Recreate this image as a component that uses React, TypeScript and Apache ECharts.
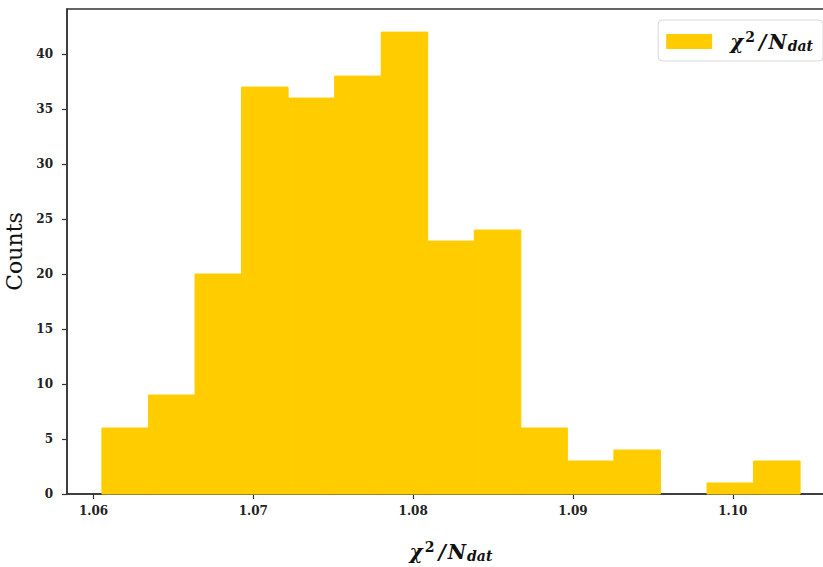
import React, { useEffect, useRef } from "react";
import * as echarts from "echarts";

const binEdges = [
  1.060525, 1.063437, 1.06635, 1.069262, 1.072175, 1.075087, 1.077999, 1.080912,
  1.083824, 1.086737, 1.089649, 1.092561, 1.095474, 1.098386, 1.101299, 1.104211,
];
const counts = [6, 9, 20, 37, 36, 38, 42, 23, 24, 6, 3, 4, 0, 1, 3];
const xTicks = [1.06, 1.07, 1.08, 1.09, 1.1];
const xMin = 1.058341;
const xMax = 1.106395;
const yMax = 44.1;
const seriesName = "χ²/N_dat";

const BAR = "#FFCC00";
const SERIF = "'DejaVu Serif', 'Liberation Serif', serif";

const mathRich = (size: number) => {
  const s = Math.round(size * 0.7);
  return {
    i: { fontFamily: SERIF, fontStyle: "italic", fontWeight: "bold", fontSize: size, color: "#111" },
    sl: { fontFamily: SERIF, fontStyle: "italic", fontWeight: "bold", fontSize: size, color: "#111", padding: [0, 2, 0, 3] },
    sup: { fontFamily: SERIF, fontWeight: "bold", fontSize: s, color: "#111", verticalAlign: "top", padding: [0, 1, Math.round(size * 0.45), 2] },
    sub: { fontFamily: SERIF, fontStyle: "italic", fontWeight: "bold", fontSize: s, color: "#111", verticalAlign: "bottom", padding: [Math.round(size * 0.4), 0, 0, 1] },
  };
};
const mathText = "{i|χ}{sup|2}{sl|/}{i|N}{sub|dat}";

export default function App() {
  const ref = useRef<HTMLDivElement>(null);
  useEffect(() => {
    if (!ref.current) return;
    const chart = echarts.init(ref.current, null, { renderer: "svg" });
    const data = counts.map((c, i) => [binEdges[i], binEdges[i + 1], c]);
    chart.setOption({
      animation: false,
      backgroundColor: "#fff",
      grid: {
        left: 67,
        top: 9,
        right: 1,
        bottom: 73,
        outerBoundsMode: "none",
        containLabel: false,
        show: true,
        borderColor: "#333",
        borderWidth: 1.5,
        backgroundColor: "transparent",
      },
      legend: {
        show: true,
        data: [{ name: seriesName, icon: "rect" }],
        right: 13,
        top: 20,
        itemWidth: 46,
        itemHeight: 15,
        padding: [10, 10, 8, 8],
        borderColor: "#d8d8d8",
        borderWidth: 1,
        borderRadius: 4,
        backgroundColor: "rgba(255,255,255,0.85)",
        formatter: () => mathText,
        textStyle: {
          fontSize: 20,
          fontFamily: SERIF,
          padding: [0, 0, 0, 13],
          rich: mathRich(20),
        },
      },
      xAxis: {
        type: "value",
        min: xMin,
        max: xMax,
        splitLine: { show: false },
        axisLine: { show: true, onZero: false, lineStyle: { color: "#333", width: 1.5 } },
        axisTick: {
          show: true,
          length: 5,
          inside: false,
          customValues: xTicks,
          lineStyle: { color: "#333", width: 1.2 },
        },
        axisLabel: {
          customValues: xTicks,
          margin: 11,
          fontFamily: SERIF,
          fontWeight: "bold",
          fontSize: 12,
          color: "#222",
          formatter: (v: number) => v.toFixed(2),
        },
        name: mathText,
        nameLocation: "middle",
        nameGap: 46,
        nameTextStyle: { fontSize: 20, fontFamily: SERIF, rich: mathRich(20) },
      },
      yAxis: {
        type: "value",
        min: 0,
        max: yMax,
        interval: 5,
        splitLine: { show: false },
        axisLine: { show: true, lineStyle: { color: "#333", width: 1.5 } },
        axisTick: { show: true, length: 5, lineStyle: { color: "#333", width: 1.2 } },
        axisLabel: {
          margin: 14,
          fontFamily: SERIF,
          fontWeight: "bold",
          fontSize: 12,
          color: "#222",
          showMaxLabel: false,
          formatter: (v: number) => (v > 40 ? "" : String(v)),
        },
        name: "Counts",
        nameLocation: "middle",
        nameGap: 35,
        nameTextStyle: { fontFamily: SERIF, fontWeight: "normal", fontSize: 22, color: "#111" },
      },
      series: [
        {
          name: seriesName,
          type: "custom",
          itemStyle: { color: BAR },
          encode: { x: [0, 1], y: 2 },
          data,
          renderItem: (params: any, api: any) => {
            const x0 = api.value(0);
            const x1 = api.value(1);
            const y = api.value(2);
            if (!(y > 0)) return null;
            const p0 = api.coord([x0, y]);
            const p1 = api.coord([x1, 0]);
            return {
              type: "rect",
              shape: { x: p0[0], y: p0[1], width: p1[0] - p0[0], height: p1[1] - p0[1] },
              style: { fill: BAR, stroke: BAR, lineWidth: 1 },
            };
          },
        },
      ],
    });
    return () => chart.dispose();
  }, []);
  return (
    <div
      ref={ref}
      style={{ position: "fixed", left: 0, top: 0, width: 836, height: 567 }}
    />
  );
}
